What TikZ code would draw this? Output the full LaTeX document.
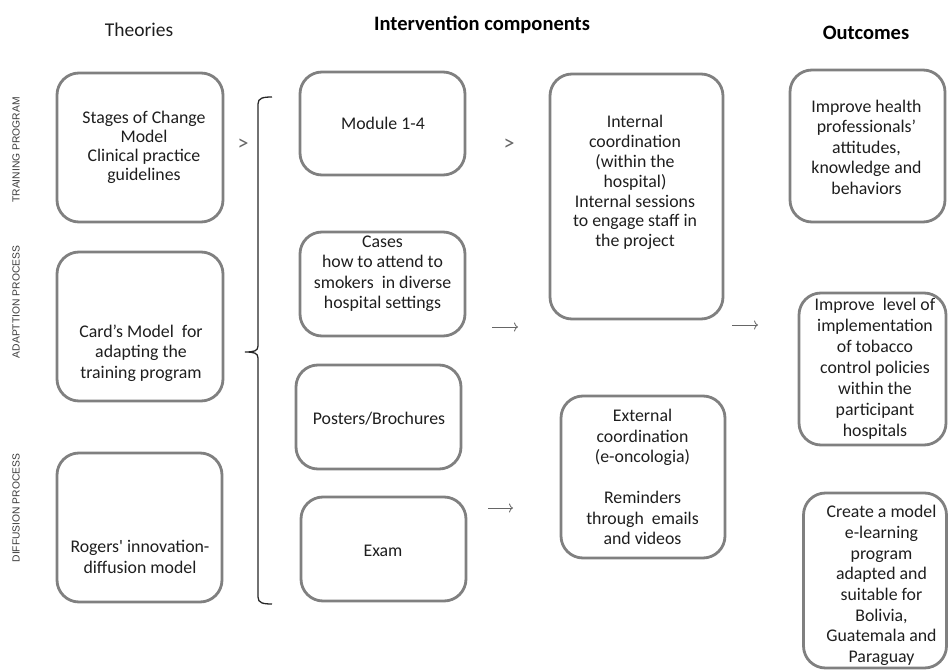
\documentclass[tikz,border=0pt]{standalone}
\usepackage{fontspec}
\setmainfont{Carlito}
\newfontfamily\arialf{Liberation Sans}
\usetikzlibrary{arrows.meta}
\definecolor{boxgray}{HTML}{808080}
\definecolor{txtcol}{HTML}{1E1E1E}
\definecolor{labgray}{HTML}{3A3A3A}
\definecolor{arrgray}{HTML}{666666}
\begin{document}
\begin{tikzpicture}[x=1pt,y=-1pt,
  box/.style={draw=boxgray, line width=2.8pt, rounded corners=22pt, inner sep=0pt},
  txt/.style={align=center, font=\fontsize{17.8}{20.5}\selectfont, text=txtcol, inner sep=0pt},
  title/.style={font=\fontsize{19.5}{22}\selectfont, text=txtcol, inner sep=0pt},
  btitle/.style={font=\bfseries\fontsize{20.5}{24}\selectfont, text=black, inner sep=0pt},
  vlab/.style={rotate=90, font=\arialf\fontsize{10.3}{12}\selectfont, text=labgray, inner sep=0pt},
  gt/.style={font=\fontsize{22}{24}\selectfont, text=arrgray, inner sep=0pt},
  arr/.style={draw=arrgray, line width=0.8pt, -{To[length=4pt,width=9pt]}},
  bracel/.style={draw=black!85, line width=1.3pt}]
\useasboundingbox (0,0) rectangle (948,671);

% titles
\node[title] (th) at (139,30) {Theories};
\node[btitle] (ic) at (482,25) {Intervention components};
\node[btitle] (oc) at (866,33) {Outcomes};

% vertical labels
\node[vlab] (l1) at (16,150) {TRAINING PROGRAM};
\node[vlab] (l2) at (16,302) {ADAPTTION PROCESS};
\node[vlab] (l3) at (16,508) {DIFFUSION PROCESS};

% theory boxes
\node[box, minimum width=166pt, minimum height=149pt] (t1) at (140,147.5) {};
\node[txt, font=\fontsize{17.8}{19}\selectfont] (t1t) at (144,147) {Stages of Change\\Model\\Clinical practice\\guidelines};
\node[box, minimum width=166pt, minimum height=149pt] (t2) at (140,326.5) {};
\node[txt] (t2t) at (141,353) {Card’s Model~ for\\adapting the\\training program};
\node[box, minimum width=165pt, minimum height=149pt] (t3) at (139.5,527.5) {};
\node[txt] (t3t) at (140,557) {Rogers\textquotesingle{} innovation-\\diffusion model};

% brace
\draw[bracel] (272,97) .. controls (263,97) and (258,98) .. (258,104) -- (258,346)
  .. controls (258,351) and (254,352) .. (245,352)
  .. controls (254,352) and (258,353) .. (258,358) -- (258,597)
  .. controls (258,603) and (263,604) .. (272,604);

% intervention boxes
\node[box, minimum width=165pt, minimum height=103pt] (m1) at (382.5,123.5) {};
\node[txt] (m1t) at (383,123) {Module 1-4};
\node[box, minimum width=165pt, minimum height=104pt] (m2) at (382.5,284) {};
\node[txt] (m2t) at (382.5,274) {Cases\\how to attend to\\smokers~ in diverse\\hospital settings};
\node[box, minimum width=165pt, minimum height=104pt] (m3) at (378.5,417) {};
\node[txt] (m3t) at (379,419) {Posters/Brochures};
\node[box, minimum width=165pt, minimum height=104pt] (m4) at (383.5,549) {};
\node[txt] (m4t) at (383,551) {Exam};

% coordination boxes
\node[box, minimum width=173pt, minimum height=245pt] (i1) at (636.5,196.5) {};
\node[txt, font=\fontsize{17.8}{19.9}\selectfont] (i1t) at (635,182.5) {Internal\\coordination\\(within the\\hospital)\\Internal sessions\\to engage staff in\\the project};
\node[box, minimum width=164pt, minimum height=162pt] (i2) at (643,477) {};
\node[txt] (i2t) at (642.5,477) {External\\coordination\\(e-oncologia)\\[20.5pt]Reminders\\through~ emails\\and videos};

% outcome boxes
\node[box, minimum width=155pt, minimum height=152pt] (o1) at (867.5,146) {};
\node[txt] (o1t) at (866.5,147) {Improve health\\professionals’\\attitudes,\\knowledge and\\behaviors};
\node[box, minimum width=147pt, minimum height=152pt] (o2) at (872.5,369) {};
\node[txt, font=\fontsize{17.8}{21}\selectfont] (o2t) at (875,368.5) {Improve~ level of\\implementation\\of tobacco\\control policies\\within the\\participant\\hospitals};
\node[box, minimum width=143pt, minimum height=175pt] (o3) at (875,580.5) {};
\node[txt, font=\fontsize{17.8}{20.7}\selectfont] (o3t) at (881.5,585.5) {Create a model\\e-learning\\program\\adapted and\\suitable for\\Bolivia,\\Guatemala and\\Paraguay};

% > glyphs
\node[gt] (g1) at (243,145) {>};
\node[gt] (g2) at (509,145) {>};

% arrows
\coordinate (a1s) at (492,327); \coordinate (a1e) at (518,327);
\coordinate (a2s) at (732,325); \coordinate (a2e) at (758,325);
\coordinate (a3s) at (488,508); \coordinate (a3e) at (513,508);
\draw[arr] (a1s) -- (a1e);
\draw[arr] (a2s) -- (a2e);
\draw[arr] (a3s) -- (a3e);
\end{tikzpicture}
\end{document}
